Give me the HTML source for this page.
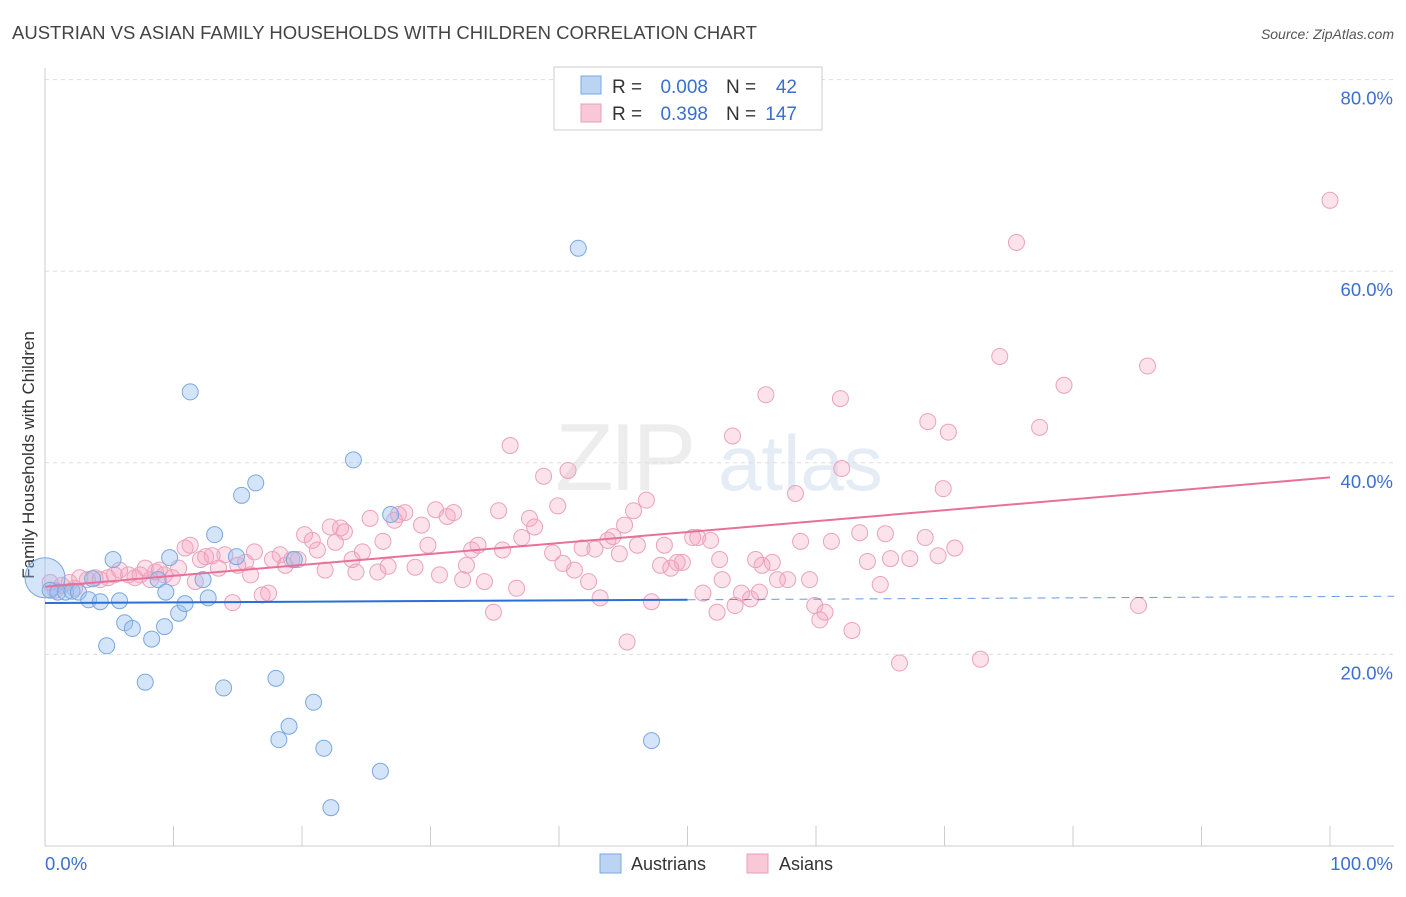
<!DOCTYPE html>
<html><head><meta charset="utf-8"><style>
body{margin:0;background:#fff;font-family:"Liberation Sans",sans-serif}
svg text{font-family:"Liberation Sans",sans-serif}
</style></head><body>
<svg id="chart" width="1406" height="892" viewBox="0 0 1406 892" xmlns="http://www.w3.org/2000/svg">
<text x="12" y="39" font-size="18.5" fill="#444">AUSTRIAN VS ASIAN FAMILY HOUSEHOLDS WITH CHILDREN CORRELATION CHART</text>
<text x="1394" y="39" font-size="14" fill="#555" text-anchor="end" font-style="italic">Source: ZipAtlas.com</text>
<g opacity="0.25">
<text x="555" y="490" font-size="96" fill="#bbb" font-family="Liberation Serif,serif" letter-spacing="-4">ZIP</text>
<text x="718" y="490" font-size="78" fill="#9ab8dc">atlas</text>
</g>
<g id="grid"></g>
<g id="axes"></g>
<text transform="translate(34,455) rotate(-90)" font-size="17" fill="#333" text-anchor="middle">Family Households with Children</text>
<g id="pts"></g>
<g id="lines"></g>
<g>
<rect x="554" y="67" width="268" height="63" fill="#fff" stroke="#ccc"/>
<rect x="581" y="76" width="20" height="18" fill="#bcd4f4" stroke="#7aa8e0"/>
<rect x="581" y="104" width="20" height="18" fill="#f9c8d6" stroke="#e8a0b8"/>
<text x="612" y="93" font-size="19" fill="#333">R =</text>
<text x="708" y="93" font-size="19" fill="#3a6fd0" text-anchor="end">0.008</text>
<text x="726" y="93" font-size="19" fill="#333">N =</text>
<text x="797" y="93" font-size="19" fill="#3a6fd0" text-anchor="end">42</text>
<text x="612" y="120" font-size="19" fill="#333">R =</text>
<text x="708" y="120" font-size="19" fill="#3a6fd0" text-anchor="end">0.398</text>
<text x="726" y="120" font-size="19" fill="#333">N =</text>
<text x="797" y="120" font-size="19" fill="#3a6fd0" text-anchor="end">147</text>
</g>
<g>
<rect x="600" y="854" width="21" height="19" fill="#bcd4f4" stroke="#7aa8e0"/>
<text x="631" y="870" font-size="18" fill="#333">Austrians</text>
<rect x="747" y="854" width="21" height="19" fill="#f9c8d6" stroke="#e8a0b8"/>
<text x="779" y="870" font-size="18" fill="#333">Asians</text>
</g>
</svg>
<script>
const yTicks=[20,40,60,80];
const yTickLabels=["20.0%","40.0%","60.0%","80.0%"];
const xEndLabels=["0.0%","100.0%"];
const blueX=[0,0.4,1.0,1.6,2.1,2.6,3.4,3.7,4.3,4.8,5.3,5.8,6.2,6.8,7.8,8.3,8.8,9.3,9.4,9.7,10.4,10.9,11.3,12.3,12.7,13.2,13.9,14.9,15.3,16.4,17.97,18.2,18.99,19.4,20.9,21.7,22.25,24.0,26.1,26.9,41.5,47.2];
const blueY=[28.0,26.7,26.5,26.5,26.6,26.5,25.7,27.9,25.5,20.9,29.9,25.6,23.3,22.7,17.1,21.6,27.8,22.9,26.5,30.1,24.3,25.3,47.4,27.8,25.9,32.5,16.5,30.2,36.6,37.9,17.5,11.1,12.5,29.9,15.0,10.2,4.0,40.3,7.8,34.6,62.4,11.0];
const pinkX=[0.4,0.8,1.3,1.9,2.3,2.7,3.3,3.9,4.3,4.9,5.4,5.8,6.5,7.0,7.4,7.8,8.2,8.6,8.9,9.3,9.9,10.4,10.9,11.3,11.7,12.1,12.5,13.0,13.5,14.0,14.6,15.0,15.6,16.0,16.3,16.9,17.4,17.7,18.3,18.7,19.2,19.7,20.2,20.8,21.2,21.8,22.2,22.6,23.0,23.3,23.9,24.2,24.7,25.3,25.9,26.3,26.7,27.2,27.5,28.0,28.8,29.3,29.8,30.4,30.7,31.3,31.8,32.5,32.8,33.2,33.7,34.2,34.9,35.3,35.6,36.2,36.7,37.1,37.7,38.1,38.8,39.5,39.9,40.3,40.7,41.2,41.8,42.3,42.8,43.2,43.8,44.2,44.7,45.3,45.8,46.1,46.8,47.2,47.9,48.2,48.7,49.2,49.6,50.4,50.8,51.2,51.8,52.3,52.7,53.5,53.7,54.2,54.9,55.3,55.8,56.1,56.6,57.0,57.8,58.4,58.8,59.5,59.9,60.3,60.7,61.2,61.9,62.0,62.8,63.4,64.0,65.0,65.4,65.8,66.5,67.3,68.5,68.7,69.5,69.9,70.3,70.8,74.3,75.6,72.8,77.4,79.3,85.1,85.8,100,45.1,52.5,55.6];
const pinkY=[27.5,26.7,27.2,27.5,26.9,28.0,27.8,28.0,27.8,28.0,28.3,28.8,28.3,28.0,28.3,29.0,27.8,28.6,28.8,28.3,28.0,29.0,31.1,31.4,27.6,29.9,30.2,30.3,29.0,30.4,25.4,29.3,29.6,28.3,30.7,26.2,26.4,29.9,30.4,29.3,29.9,29.9,32.5,31.9,30.9,28.8,33.3,31.7,33.2,32.8,29.9,28.6,30.7,34.2,28.6,31.8,29.2,34.0,34.6,34.8,29.1,33.5,31.4,35.1,28.3,34.4,34.8,27.8,29.3,30.9,31.4,27.6,24.4,35.0,30.9,41.8,26.9,32.2,34.2,33.3,38.6,30.6,35.5,29.5,39.2,28.8,31.1,27.6,31.0,25.9,31.9,32.3,30.5,21.3,35.0,31.4,36.1,25.5,29.3,31.4,29.0,29.6,29.6,32.2,32.2,26.4,31.9,24.4,27.8,42.8,25.1,26.4,25.8,29.9,29.3,47.1,29.6,27.8,27.8,36.8,31.8,27.8,25.1,23.6,24.4,31.8,46.7,39.4,22.5,32.7,29.7,27.3,32.6,30.0,19.1,30.0,32.2,44.3,30.3,37.3,43.2,31.1,51.1,63.0,19.5,43.7,48.1,25.1,50.1,67.4,33.5,29.9,26.5];
const NS="http://www.w3.org/2000/svg";
const X=v=>45+v*12.85, Y=v=>846-v*9.58;
function mk(tag,attrs,parent){const e=document.createElementNS(NS,tag);for(const k in attrs)e.setAttribute(k,attrs[k]);parent.appendChild(e);return e;}
const grid=document.getElementById('grid'),axes=document.getElementById('axes');
yTicks.forEach((t,i)=>{
 const l=mk('line',{x1:45,x2:1394,y1:Y(t),y2:Y(t),stroke:'#ddd','stroke-dasharray':'4,4'},grid);
 
 
 const tx=mk('text',{x:1393,y:Y(t)+25,'font-size':18.5,fill:'#3a6fd0','text-anchor':'end'},axes);
 tx.textContent=yTickLabels[i];
 
 
});
const ya=mk('line',{x1:45,x2:45,y1:68,y2:846,stroke:'#ccc'},axes);


const xa=mk('line',{x1:45,x2:1394,y1:846,y2:846,stroke:'#ccc'},axes);


for(let i=0;i<=10;i++){const t=mk('line',{x1:X(i*10),x2:X(i*10),y1:826,y2:846,stroke:'#ccc'},axes);
 
 }
const xl0=mk('text',{x:45,y:870,'font-size':18.5,fill:'#3a6fd0'},axes);xl0.textContent=xEndLabels[0];


const xl1=mk('text',{x:1393,y:870,'font-size':18.5,fill:'#3a6fd0','text-anchor':'end'},axes);xl1.textContent=xEndLabels[1];


const pts=document.getElementById('pts');
pinkX.forEach((x,i)=>{const c=mk('circle',{cx:X(x),cy:Y(pinkY[i]),r:8,fill:'rgba(244,160,188,0.3)',stroke:'#eba2bb','stroke-width':1},pts);
 
 });
blueX.forEach((x,i)=>{const c=mk('circle',{cx:X(x),cy:Y(blueY[i]),r:i===0?20:8,fill:'rgba(150,190,240,0.4)',stroke:'#7aa8e0','stroke-width':1},pts);
 
 });
function ls(xs,ys){const n=xs.length;let mx=0,my=0;xs.forEach((x,i)=>{mx+=x;my+=ys[i]});mx/=n;my/=n;let sxy=0,sxx=0;xs.forEach((x,i)=>{sxy+=(x-mx)*(ys[i]-my);sxx+=(x-mx)**2});const b=sxy/sxx;return [my-b*mx,b];}
const lines=document.getElementById('lines');
const [ba,bb]=ls(blueX,blueY);
const bl=mk('line',{x1:X(0),y1:Y(ba),x2:X(50),y2:Y(ba+bb*50),stroke:'#2b6fd6','stroke-width':2},lines);


const bd=mk('line',{x1:X(50),y1:Y(ba+bb*50),x2:X(105),y2:Y(ba+bb*105),stroke:'#2b6fd6','stroke-width':1,'stroke-dasharray':'8,6',opacity:0.7},lines);


const [pa,pb]=ls(pinkX,pinkY);
const pl=mk('line',{x1:X(0),y1:Y(pa),x2:X(100),y2:Y(pa+pb*100),stroke:'#e8719a','stroke-width':2},lines);


</script>
</body></html>
